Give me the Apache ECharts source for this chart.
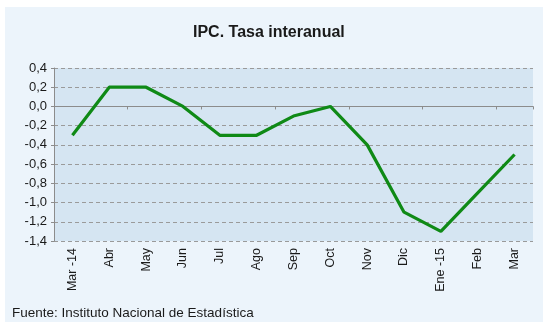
<!DOCTYPE html>
<html>
<head>
<meta charset="utf-8">
<script src="https://cdn.jsdelivr.net/npm/echarts@6/dist/echarts.min.js"></script>
<style>
  html, body { margin: 0; padding: 0; background: #ffffff; }
  #chart { width: 543px; height: 322px; }
</style>
</head>
<body>
<div id="chart"></div>
<script>
// Monthly categories, Mar 2014 to Mar 2015
const months = ['Mar -14', 'Abr', 'May', 'Jun', 'Jul', 'Ago', 'Sep', 'Oct', 'Nov', 'Dic', 'Ene -15', 'Feb', 'Mar'];
// Year-on-year CPI rate (%)
const ipcRate = [-0.3, 0.2, 0.2, 0.0, -0.3, -0.3, -0.1, 0.0, -0.4, -1.1, -1.3, -0.9, -0.5];
// Value axis range
const yMin = -1.4, yMax = 0.4, yStep = 0.2;

const fontFamily = 'Liberation Sans, Arial, sans-serif';
const fmt = v => v.toFixed(1).replace('.', ',');

const chart = echarts.init(document.getElementById('chart'), null, { renderer: 'canvas' });
chart.setOption({
  animation: false,
  backgroundColor: '#ffffff',
  graphic: [
    { type: 'rect', z: -10, shape: { x: 5, y: 7, width: 538, height: 315 },
      style: { fill: '#ecf4fb' } },
    { type: 'text', left: 12, top: 306,
      style: { text: 'Fuente: Instituto Nacional de Estadística', fill: '#1a1a1a',
               font: '13.5px ' + fontFamily } }
  ],
  title: {
    text: 'IPC. Tasa interanual',
    left: 188, top: 20,
    textStyle: { fontFamily, fontSize: 16, fontWeight: 'bold', color: '#1a1a1a' }
  },
  grid: { left: 54, right: 10, top: 68, bottom: 81, show: true,
          backgroundColor: '#d5e5f2', borderWidth: 0 },
  xAxis: [
    {
      type: 'category', data: months, boundaryGap: true,
      axisLine: { show: false, onZero: false },
      axisTick: { show: false },
      axisLabel: { rotate: 90, margin: 7, fontFamily, fontSize: 12.5, color: '#1a1a1a' }
    },
    {
      type: 'category', data: months, boundaryGap: true, position: 'bottom',
      axisLine: { show: true, onZero: true, lineStyle: { color: '#8c8c8c', width: 1 } },
      axisTick: { show: true, length: 3, lineStyle: { color: '#8c8c8c' } },
      axisLabel: { show: false }
    }
  ],
  yAxis: {
    type: 'value', min: yMin, max: yMax, interval: yStep,
    axisLine: { show: true, lineStyle: { color: '#8c8c8c' } },
    axisTick: { show: true, length: 3, lineStyle: { color: '#8c8c8c' } },
    axisLabel: { formatter: fmt, margin: 7, fontFamily, fontSize: 13, color: '#1a1a1a' },
    splitLine: { show: true, lineStyle: { color: '#9a9a9a', type: [4, 3], width: 1 } }
  },
  series: [{
    type: 'line', data: ipcRate, xAxisIndex: 0,
    symbol: 'none',
    lineStyle: { color: '#0f8a16', width: 3.2 },
    z: 5
  }]
});
</script>
</body>
</html>
